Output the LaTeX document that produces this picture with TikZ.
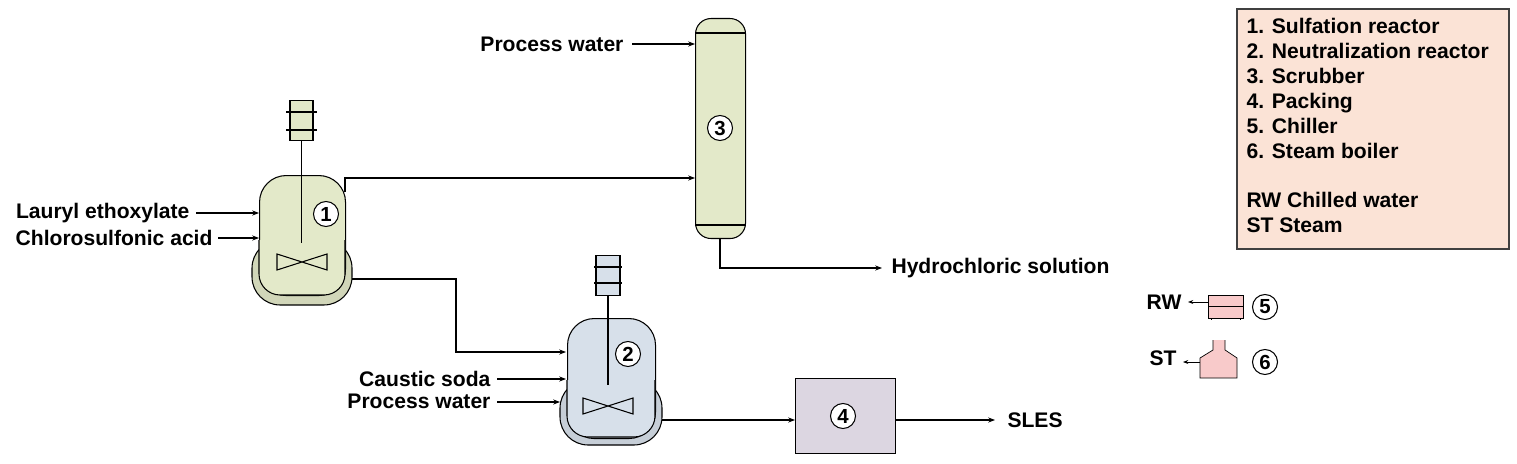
\documentclass[tikz,border=0pt]{standalone}
\usepackage{fontspec}
\setmainfont{Liberation Sans}
\usetikzlibrary{arrows.meta, positioning}
\tikzset{>=Stealth}
\definecolor{greenfill}{HTML}{E3E9C9}
\definecolor{bluefill}{HTML}{D7E0EA}
\definecolor{lilac}{HTML}{DCD6E1}
\definecolor{pinkfill}{HTML}{F8CACA}
\definecolor{legendfill}{HTML}{FBE3D6}

\begin{document}
\begin{tikzpicture}[x=0.05cm, y=-0.05cm, line width=1.5pt,
    txt/.style={font=\fontsize{30}{35}\selectfont\bfseries, inner sep=0pt},
    num/.style={circle, draw, fill=white, minimum size=1.25cm, inner sep=0pt, font=\fontsize{29}{32}\selectfont\bfseries},
    flow/.style={->, line width=1.5pt}]
        \useasboundingbox (0,0) rectangle (1517,464);
        % reactor 1
        \draw [fill=greenfill!92!black, rounded corners=40] (252,240) rectangle (352,305);
        \node [draw, fill=greenfill, rounded corners=38, minimum width=4.3cm, minimum height=6cm, anchor=north west] (r1) at (259,175) {};
        \draw [fill=greenfill, rounded corners=30] (259,240) -- (259,295) -- (345,295) -- (345,240);
        \draw [fill=greenfill, draw=none] (261,230) rectangle (343,262);
        \node [draw, fill=greenfill, minimum width=1.15cm, minimum height=2cm, anchor=north] (m1) at (301.5,100) {};
        \draw (286,112)--(317,112) (286,130)--(317,130);
        \draw [line width=2pt] (m1.south) -- (301.5,243);
        \draw (277,254) -- (327,270) -- (327,254) -- (277,270) -- cycle;
        \node [num] (n1) at (326,214) {1};
        % reactor 2
        \draw [fill=bluefill!92!black, rounded corners=40] (560,380) rectangle (662,445);
        \node [draw, fill=bluefill, rounded corners=38, minimum width=4.4cm, minimum height=6cm, anchor=north west] (r2) at (567,318) {};
        \draw [fill=bluefill, rounded corners=30] (567,380) -- (567,437) -- (655,437) -- (655,380);
        \draw [fill=bluefill, draw=none] (569,370) rectangle (653,402);
        \node [draw, fill=bluefill, minimum width=1.2cm, minimum height=2cm, anchor=north] (m2) at (608,255) {};
        \draw (594,267)--(622,267) (594,283)--(622,283);
        \draw [line width=2pt] (m2.south) -- (608,385);
        \draw (583,398) -- (633,414) -- (633,398) -- (583,414) -- cycle;
        \node [num] (n2) at (628,354) {2};
        % scrubber
        \node [draw, fill=greenfill, rounded corners=22, minimum width=2.5cm, minimum height=11cm, anchor=north west] (col) at (695,18) {};
        \draw (695,33) -- (745,33) (695,225) -- (745,225);
        \node [num] (n3) at (720,128) {3};
        % packing
        \node [draw, fill=lilac, minimum width=5cm, minimum height=3.75cm, anchor=north west] (pk) at (795,378) {};
        \node [num] (n4) at (843,416) {4};
        % feeds and streams
        \node [txt, anchor=east] (pw1) at (624,44) {Process water};
        \draw [flow] (632,44) -- (695,44);
        \node [txt, anchor=east] (le) at (190,213) {Lauryl ethoxylate};
        \draw [flow] (196,213) -- (259,213);
        \node [txt, anchor=east] (ca) at (213,238) {Chlorosulfonic acid};
        \draw [flow] (218,238) -- (259,238);
        \draw [flow] (345,192) -- (345,178) -- (695,178);
        \node [txt, anchor=west] (hs) at (891,268) {Hydrochloric solution};
        \draw [flow] (720,238) -- (720,268) -- (882,268);
        \draw [flow] (352,279) -- (456,279) -- (456,352) -- (566,352);
        \node [txt, anchor=east] (cs) at (491,379) {Caustic soda};
        \draw [flow] (497,379) -- (566,379);
        \node [txt, anchor=east] (pw2) at (491,401) {Process water};
        \draw [flow] (497,402) -- (560,402);
        \draw [flow] (662,420) -- (pk.west|-0,420);
        \node [txt, anchor=west] (sl) at (1007,420) {SLES};
        \draw [flow] (pk.east|-0,420) -- (995,420);
        % chiller and boiler
        \draw [fill=pinkfill, line width=1pt] (1208,295) rectangle (1243,306) (1208,306) rectangle (1243,318);
        \draw [line width=1pt] (1211,318) -- (1211,320) (1240,318) -- (1240,320);
        \node [txt, anchor=east] (rw) at (1182,302) {RW};
        \draw [flow, line width=1pt] (1208,302) -- (1188,302);
        \node [num] (n5) at (1265,307) {5};
        \draw [fill=pinkfill, line width=1pt] (1213,340) -- (1213,350) -- (1200,358) -- (1200,378) -- (1237,378) -- (1237,358) -- (1225,350) -- (1225,340);
        \node [txt, anchor=east] (st) at (1177,358) {ST};
        \draw [flow, line width=1pt] (1200,362) -- (1183,362);
        \node [num] (n6) at (1265,362) {6};
        % legend
        \node [draw, line width=3.5pt, draw=black!75, fill=legendfill, minimum width=13.6cm, minimum height=12cm, anchor=north west] (leg) at (1236,8) {};
        \node [txt, anchor=north west, align=left, font=\fontsize{30}{35.4}\selectfont\bfseries] (legtxt) at (1246,18) {1. Sulfation reactor\\2. Neutralization reactor\\3. Scrubber\\4. Packing\\5. Chiller\\6. Steam boiler\\[35.4pt]RW Chilled water\\ST Steam};
\end{tikzpicture}
\end{document}
